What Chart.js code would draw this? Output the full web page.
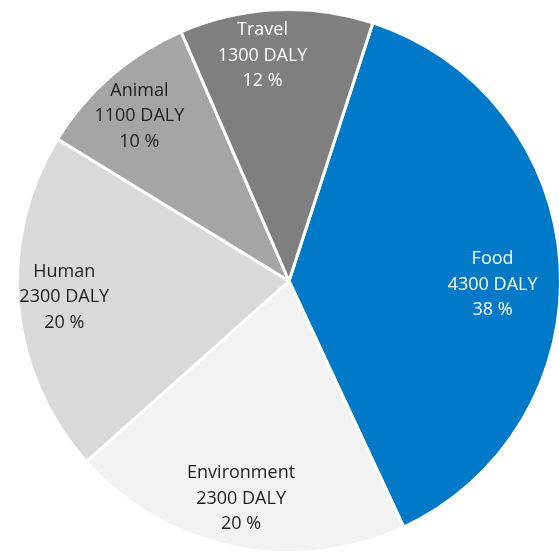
<!DOCTYPE html>
<html>
<head>
<meta charset="utf-8">
<script src="https://cdn.jsdelivr.net/npm/chart.js@4/dist/chart.umd.min.js"></script>
<style>
  html, body { margin: 0; padding: 0; background: #fff; overflow: hidden; }
  #wrap { position: absolute; left: 9px; top: 1px; }
</style>
</head>
<body>
<div id="wrap"><canvas id="daly-pie" width="560" height="560"></canvas></div>
<script>
const categories = ['Food', 'Environment', 'Human', 'Animal', 'Travel'];
const dalyValues = [4300, 2300, 2300, 1100, 1300];
const sliceColors = ['#0079c8', '#f2f2f2', '#d9d9d9', '#a5a5a5', '#7f7f7f'];
const labelColors = ['#ffffff', '#1e1e1e', '#1e1e1e', '#1e1e1e', '#ffffff'];

// label placement per slice: angle shift (deg) from the slice middle, and distance as share of radius
const labelPlace = [
    { shift: 4.5, dist: 0.75 },
    { shift: 0.8, dist: 0.82 },
    { shift: 1, dist: 0.83 },
    { shift: -1.3, dist: 0.82 },
    { shift: -4, dist: 0.835 }
];

const total = dalyValues.reduce((a, b) => a + b, 0);

// writes name / DALY / share inside each slice
const sliceLabels = {
    id: 'sliceLabels',
    afterDatasetsDraw(chart) {
        const ctx = chart.ctx;
        const meta = chart.getDatasetMeta(0);
        ctx.save();
        ctx.font = '18px "Open Sans", sans-serif';
        ctx.textAlign = 'center';
        ctx.textBaseline = 'middle';
        meta.data.forEach((arc, i) => {
            const mid = (arc.startAngle + arc.endAngle) / 2 + labelPlace[i].shift * Math.PI / 180;
            const r = arc.outerRadius * labelPlace[i].dist;
            const x = arc.x + Math.cos(mid) * r;
            const y = arc.y + Math.sin(mid) * r;
            const pct = Math.round(dalyValues[i] / total * 100);
            const lines = [categories[i], dalyValues[i] + ' DALY', pct + ' %'];
            ctx.fillStyle = labelColors[i];
            lines.forEach((t, k) => ctx.fillText(t, x, y + (k - 1) * 25.5));
        });
        ctx.restore();
    }
};

new Chart(document.getElementById('daly-pie').getContext('2d'), {
    type: 'pie',
    data: {
        labels: categories,
        datasets: [{
            data: dalyValues,
            backgroundColor: sliceColors,
            borderColor: '#ffffff',
            borderWidth: 3
        }]
    },
    options: {
        responsive: false,
        animation: false,
        rotation: 18,
        layout: { padding: 7 },
        plugins: {
            legend: { display: false },
            tooltip: { enabled: false }
        }
    },
    plugins: [sliceLabels]
});
</script>
</body>
</html>
